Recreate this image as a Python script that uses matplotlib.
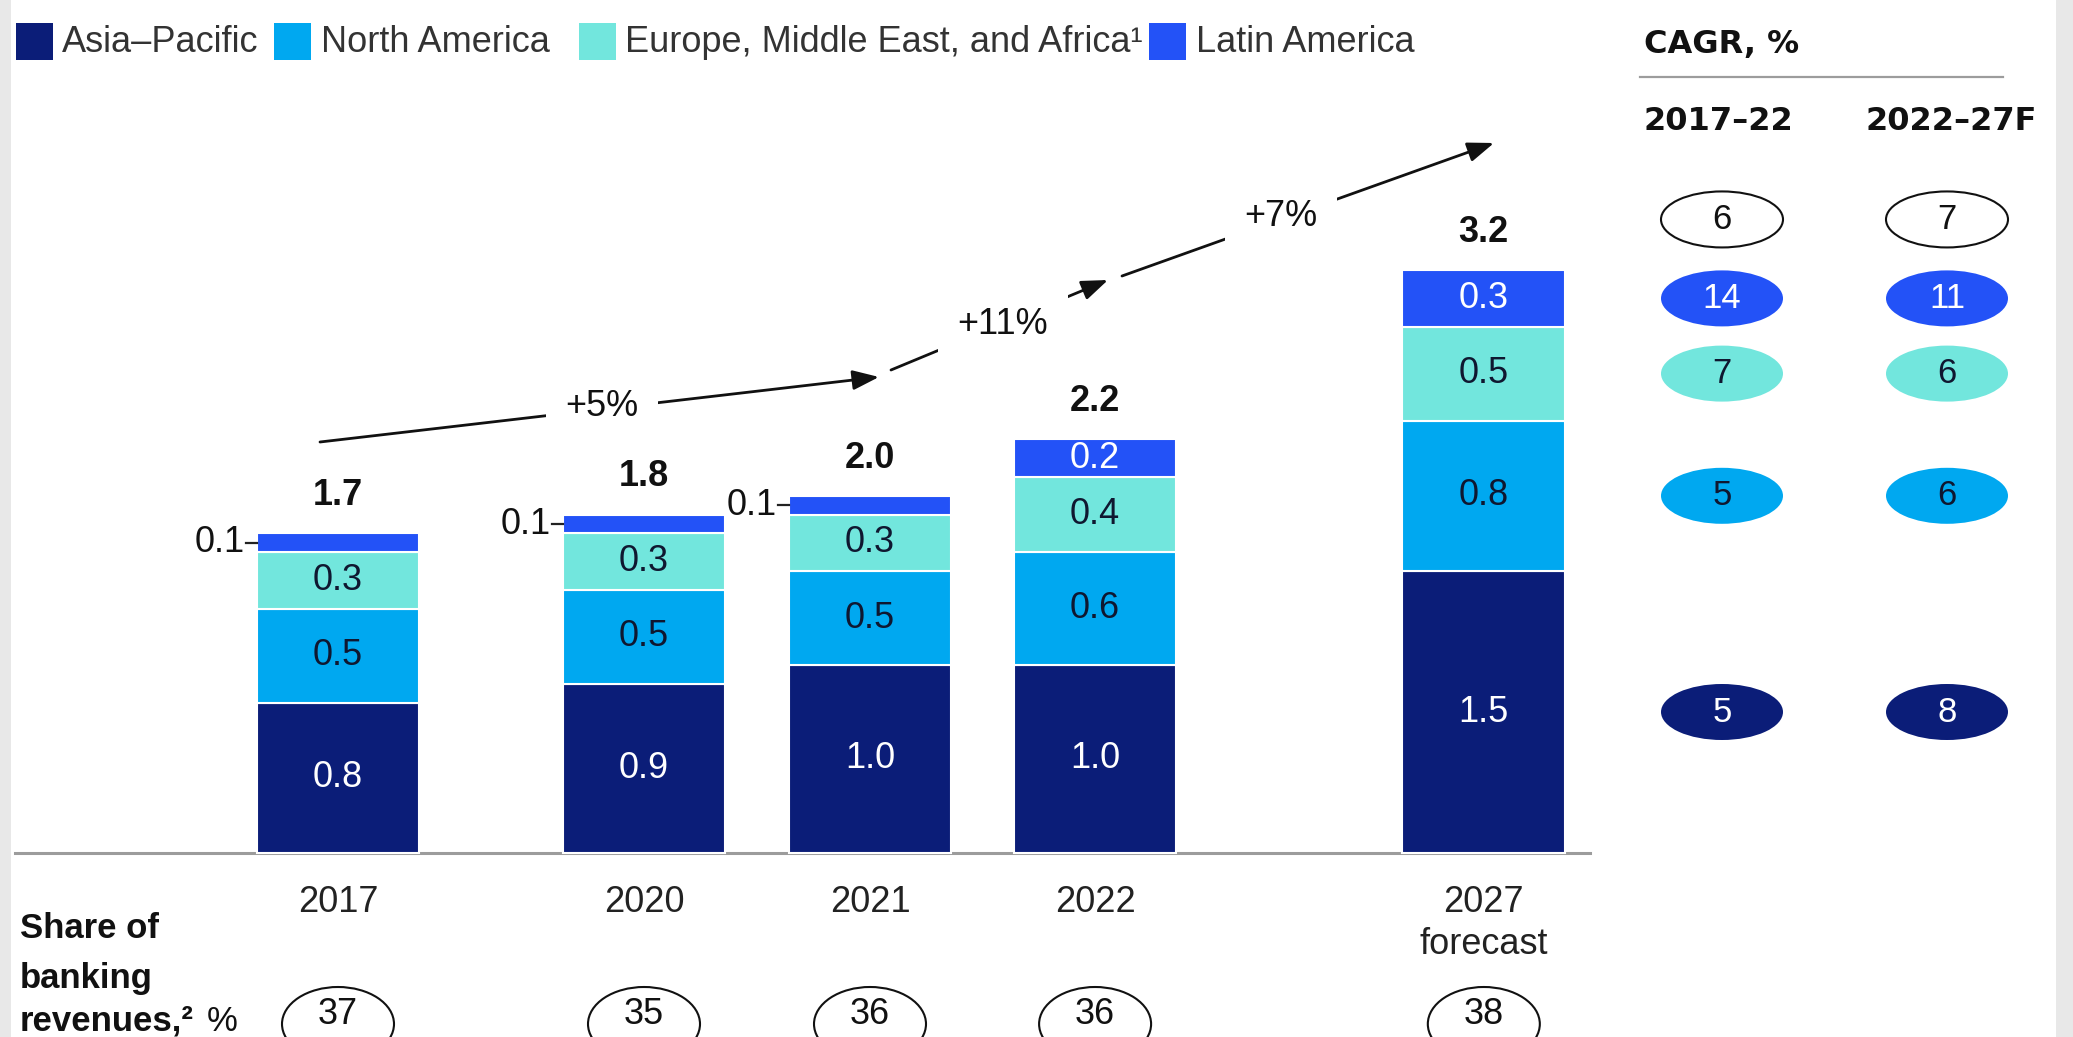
import numpy as np
import matplotlib
matplotlib.use("Agg")
import matplotlib.pyplot as plt
import matplotlib.transforms as mtransforms
from matplotlib.patches import Rectangle, Ellipse

plt.rcParams['font.family'] = ['Liberation Sans', 'DejaVu Sans']

# --- data -------------------------------------------------------------
years = ['2017', '2020', '2021', '2022', '2027']
year_notes = ['', '', '', '', 'forecast']
asia_pacific = [0.8, 0.9, 1.0, 1.0, 1.5]
north_america = [0.5, 0.5, 0.5, 0.6, 0.8]
emea = [0.3, 0.3, 0.3, 0.4, 0.5]
latin_america = [0.1, 0.1, 0.1, 0.2, 0.3]
totals = [1.7, 1.8, 2.0, 2.2, 3.2]
share_of_revenues = [37, 35, 36, 36, 38]

region_names = ['Asia\u2013Pacific', 'North America',
                'Europe, Middle East, and Africa\u00b9', 'Latin America']
cagr_periods = ['2017\u201322', '2022\u201327F']
# total, Latin America, EMEA, North America, Asia-Pacific
cagr_2017_22 = [6, 14, 7, 5, 5]
cagr_2022_27 = [7, 11, 6, 6, 8]

growth_labels = ['+5%', '+11%', '+7%']

# --- layout -----------------------------------------------------------
W, H = 2073, 1037
positions = [0, 1.354, 2.354, 3.35, 5.07]
bar_width = 0.72
X0, UX = 338, 226      # pixel x of first bar, pixels per x unit
Y0, UY = 853, 188      # pixel y of baseline, pixels per value unit

navy = '#0b1d78'
sky = '#00a8f0'
aqua = '#72e6dd'
blue = '#2352f7'
dark = '#0f1730'
colors = [navy, sky, aqua, blue]
label_colors = ['white', dark, dark, 'white']

fig = plt.figure(figsize=(W / 100, H / 100), dpi=100)
ax = fig.add_axes([0, 0, 1, 1])
ax.axis('off')
ax.set_xlim(-X0 / UX, (W - X0) / UX)
ax.set_ylim(-(H - Y0) / UY, Y0 / UY)

# pixel coordinates, origin top-left
pix = mtransforms.Affine2D().scale(1 / W, -1 / H).translate(0, 1) + fig.transFigure
x_data_y_pix = mtransforms.blended_transform_factory(ax.transData, pix)
x_pix_y_data = mtransforms.blended_transform_factory(pix, ax.transData)

# grey side margins
for x0, w in [(0, 11), (2056, 17)]:
    fig.patches.append(Rectangle((x0, 0), w, H, transform=pix,
                                 facecolor='#e8e8e8', edgecolor='none', zorder=0))

# --- stacked bars -----------------------------------------------------
series = [asia_pacific, north_america, emea, latin_america]
bottom = np.zeros(len(years))
for vals, col, tcol in zip(series, colors, label_colors):
    vals = np.array(vals)
    ax.bar(positions, vals, width=bar_width, bottom=bottom, color=col,
           edgecolor='white', linewidth=1.5, zorder=2)
    for p, b, v in zip(positions, bottom, vals):
        mid = b + v / 2
        if v >= 0.2:
            ax.text(p, mid, f'{v:.1f}', ha='center', va='center',
                    fontsize=26, color=tcol, zorder=3)
        else:
            left = p - bar_width / 2
            ax.plot([left - 11 / UX, left], [mid, mid], color='#222222',
                    lw=1.6, zorder=3)
            ax.text(left - 12 / UX, mid, f'{v:.1f}', ha='right', va='center',
                    fontsize=26, color='#111111', zorder=3)
    bottom += vals

for p, top, t in zip(positions, bottom, totals):
    ax.text(p, top + 0.2, f'{t:.1f}', ha='center', va='center',
            fontsize=26, fontweight='bold', color='#111111')

# baseline
ax.plot([15, 1590], [Y0, Y0], transform=pix, color='#9c9c9c', lw=2.2, zorder=1)

# year labels
for p, yr, note in zip(positions, years, year_notes):
    ax.text(p, 912, yr, transform=x_data_y_pix, ha='center', va='baseline',
            fontsize=26, color='#222222')
    if note:
        ax.text(p, 954, note, transform=x_data_y_pix, ha='center',
                va='baseline', fontsize=26, color='#222222')

# --- growth arrows ----------------------------------------------------
arrows = [((320, 442), (879, 377), (602, 406)),
          ((891, 370), (1108, 280), (1003, 325)),
          ((1122, 276), (1494, 143), (1281, 217))]
for (start, end, lab_xy), lab in zip(arrows, growth_labels):
    ax.annotate('', xy=end, xytext=start, xycoords=pix, textcoords=pix,
                arrowprops=dict(arrowstyle='-|>,head_length=0.8,head_width=0.3',
                                mutation_scale=20, color='#111111', lw=2,
                                shrinkA=0, shrinkB=0), zorder=4)
    ax.text(*lab_xy, lab, transform=pix, ha='center', va='center',
            fontsize=26, color='#111111', zorder=5,
            bbox=dict(boxstyle='square,pad=0.55', facecolor='white',
                      edgecolor='none'))

# --- legend -----------------------------------------------------------
legend_sq = [16, 274, 579, 1149]
legend_tx = [62, 321, 625, 1196]
for sx, tx, col, name in zip(legend_sq, legend_tx, colors, region_names):
    fig.patches.append(Rectangle((sx, 23), 37, 37, transform=pix,
                                 facecolor=col, edgecolor='none'))
    fig.text(tx, 42, name, transform=pix, ha='left', va='center',
             fontsize=26, color='#333333')

# --- share of banking revenues ---------------------------------------
fig.text(20, 938, 'Share of', transform=pix, fontsize=25,
         fontweight='bold', va='baseline', color='#111111')
fig.text(20, 988, 'banking', transform=pix, fontsize=25,
         fontweight='bold', va='baseline', color='#111111')
fig.text(20, 1031, 'revenues,\u00b2', transform=pix, fontsize=25,
         fontweight='bold', va='baseline', color='#111111')
fig.text(207, 1031, '%', transform=pix, fontsize=25, va='baseline',
         color='#111111')
for p, s in zip(positions, share_of_revenues):
    ax.add_patch(Ellipse((p, 1024), 112 / UX, 74, transform=x_data_y_pix,
                         facecolor='white', edgecolor='#111111', lw=1.5))
    ax.text(p, 1014, str(s), transform=x_data_y_pix, ha='center',
            va='center', fontsize=26, color='#111111')

# --- CAGR panel -------------------------------------------------------
fig.text(1644, 44, 'CAGR, %', transform=pix, ha='left', va='center',
         fontsize=23, fontweight='bold', family='DejaVu Sans', color='#111111')
ax.plot([1640, 2003], [77, 77], transform=pix, color='#9c9c9c', lw=1.6)
for cx, per in zip([1644, 1866], cagr_periods):
    fig.text(cx, 121, per, transform=pix, ha='left', va='center',
             fontsize=23, fontweight='bold', family='DejaVu Sans',
             color='#111111')

# rows: total above the 2027 bar, then each region at its segment midpoint
last = np.array([asia_pacific[-1], north_america[-1], emea[-1], latin_america[-1]])
seg_mid = np.cumsum(last) - last / 2
row_y = [3.37, seg_mid[3], seg_mid[2], seg_mid[1], seg_mid[0]]
row_face = ['white', blue, aqua, sky, navy]
row_edge = ['#111111', 'none', 'none', 'none', 'none']
row_text = ['#111111', 'white', dark, dark, 'white']
for cx, vals in zip([1722, 1947], [cagr_2017_22, cagr_2022_27]):
    for y, v, fc, ec, tc in zip(row_y, vals, row_face, row_edge, row_text):
        ax.add_patch(Ellipse((cx, y), 122, 56 / UY, transform=x_pix_y_data,
                             facecolor=fc, edgecolor=ec, lw=1.5))
        ax.text(cx, y, str(v), transform=x_pix_y_data, ha='center',
                va='center', fontsize=25, color=tc)

fig.savefig('out.png', dpi=100)
